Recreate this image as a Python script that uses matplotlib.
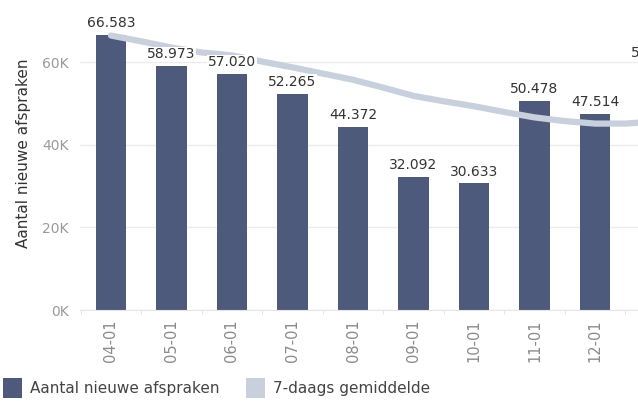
import matplotlib
matplotlib.use("Agg")
import matplotlib.pyplot as plt
from matplotlib.patches import Rectangle

# ---- data ----
categories = ["04-01", "05-01", "06-01", "07-01", "08-01", "09-01", "10-01", "11-01", "12-01", "01-01"]
values = [66583, 58973, 57020, 52265, 44372, 32092, 30633, 50478, 47514, 59248]
value_labels = ["66.583", "58.973", "57.020", "52.265", "44.372", "32.092", "30.633", "50.478", "47.514", "59.248"]
avg_pos = [0, 0.5, 1, 1.5, 2, 2.5, 3, 3.5, 4, 4.5, 5, 5.5, 6, 6.5, 7, 7.5, 8, 8.5, 9]
avg_values = [66400, 65000, 63500, 62300, 61600, 60100, 58700, 57200, 55700, 53800,
              51800, 50500, 49300, 47900, 46600, 45700, 45100, 45100, 45600]
yticks = [0, 20000, 40000, 60000]
ytick_labels = ["0K", "20K", "40K", "60K"]

BAR = "#4e5a7b"
LINE = "#c9d0dd"

W, H = 638, 401
fig = plt.figure(figsize=(W / 100, H / 100), dpi=100)
ax = fig.add_axes([80 / W, 91 / H, 558 / W, 310 / H])

x = list(range(len(categories)))
ax.bar(x, values, width=0.5, color=BAR, zorder=2)
ax.plot(avg_pos, avg_values, color=LINE, lw=4.5, solid_capstyle="round", zorder=3)

for xi, v, lab in zip(x, values, value_labels):
    ax.annotate(lab, (xi, v), xytext=(0, 3.5), textcoords="offset points",
                ha="center", va="bottom", fontsize=10, color="#333333", zorder=4,
                annotation_clip=False,
                bbox=dict(boxstyle="square,pad=0.05", fc="white", ec="none"))

ax.set_yticks(yticks)
ax.set_yticklabels(ytick_labels)
ax.set_xticks(x)
ax.set_xticklabels(categories, rotation=90)
ax.set_xticks([i + 0.5 for i in range(-1, 10)], minor=True)
ax.set_xlim(-0.512, 8.71)
ax.set_ylim(0, 75000)
ax.tick_params(axis="x", which="major", length=0, pad=7, labelsize=10.5, labelcolor="#8a8a8a")
ax.tick_params(axis="x", which="minor", length=3, color="#e0e0e0")
ax.tick_params(axis="y", length=0, pad=8, labelsize=10, labelcolor="#9a9a9a")
ax.grid(axis="y", color="#ececec", lw=1, zorder=0)
ax.set_axisbelow(True)
for s in ["top", "right", "left"]:
    ax.spines[s].set_visible(False)
ax.spines["bottom"].set_color("#e6e6e6")

fig.text(24 / W, 1 - 153 / H, "Aantal nieuwe afspraken", rotation=90, ha="center", va="center",
         fontsize=11, color="#333333")

# legend
fig.patches.append(Rectangle((3 / W, 3 / H), 19 / W, 20 / H, transform=fig.transFigure,
                             facecolor=BAR, edgecolor="none"))
fig.text(30 / W, 13 / H, "Aantal nieuwe afspraken", ha="left", va="center", fontsize=11, color="#444444")
fig.patches.append(Rectangle((246 / W, 3 / H), 19 / W, 20 / H, transform=fig.transFigure,
                             facecolor=LINE, edgecolor="none"))
fig.text(273 / W, 13 / H, "7-daags gemiddelde", ha="left", va="center", fontsize=11, color="#444444")

fig.savefig("out.png", dpi=100)
